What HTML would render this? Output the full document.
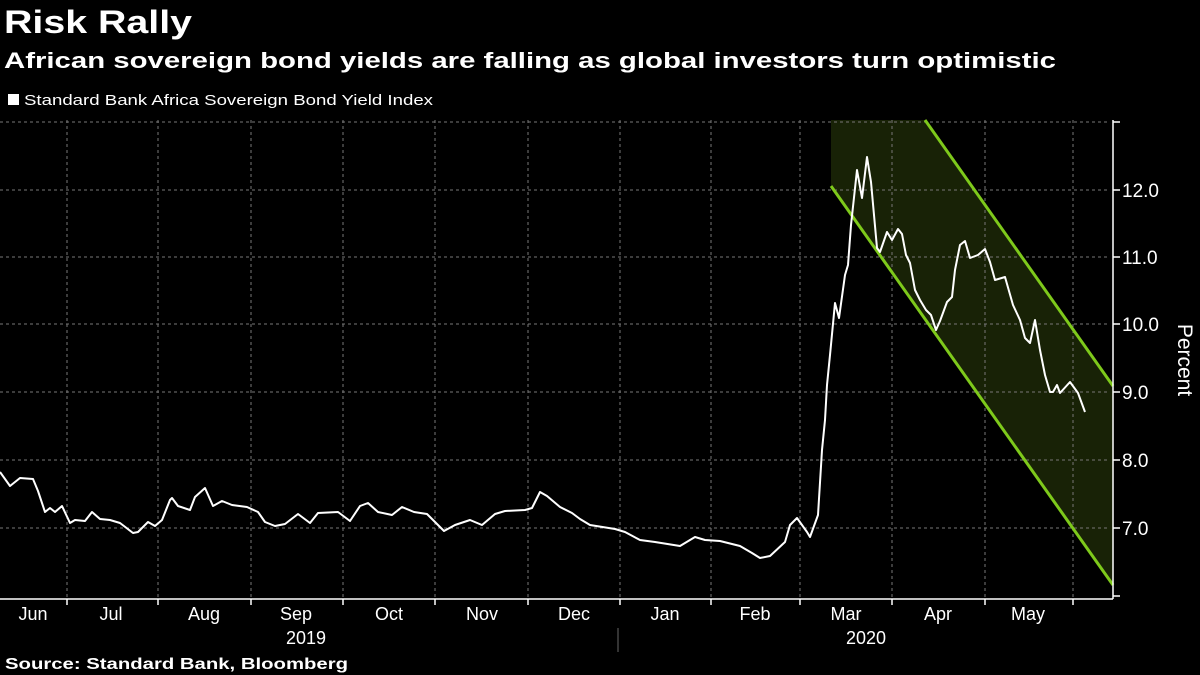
<!DOCTYPE html>
<html><head><style>
body{margin:0;background:#000;width:1200px;height:675px;overflow:hidden;font-family:"Liberation Sans",sans-serif;color:#fff}
</style></head><body>
<svg width="1200" height="675" xmlns="http://www.w3.org/2000/svg" style="position:absolute;left:0;top:0">
<text x="4" y="33" font-size="32" font-weight="bold" fill="#fff" textLength="188" lengthAdjust="spacingAndGlyphs">Risk Rally</text>
<text x="4" y="68" font-size="22" font-weight="bold" fill="#fff" textLength="1052" lengthAdjust="spacingAndGlyphs">African sovereign bond yields are falling as global investors turn optimistic</text>
<rect x="8" y="94" width="11" height="11" fill="#fff"/>
<text x="24" y="105" font-size="15" fill="#fff" textLength="409" lengthAdjust="spacingAndGlyphs">Standard Bank Africa Sovereign Bond Yield Index</text>
<polygon points="831,120 925,120 1113,386 1113,585 831,186" fill="#182206"/>
<g stroke="#777" stroke-width="1" stroke-dasharray="3,3">
<line x1="0" y1="122" x2="1110" y2="122"/><line x1="0" y1="190" x2="1110" y2="190"/><line x1="0" y1="257" x2="1110" y2="257"/><line x1="0" y1="324" x2="1110" y2="324"/><line x1="0" y1="392" x2="1110" y2="392"/><line x1="0" y1="460" x2="1110" y2="460"/><line x1="0" y1="528" x2="1110" y2="528"/>
<line x1="67" y1="120" x2="67" y2="598"/><line x1="158" y1="120" x2="158" y2="598"/><line x1="251" y1="120" x2="251" y2="598"/><line x1="343" y1="120" x2="343" y2="598"/><line x1="435" y1="120" x2="435" y2="598"/><line x1="528" y1="120" x2="528" y2="598"/><line x1="620" y1="120" x2="620" y2="598"/><line x1="711" y1="120" x2="711" y2="598"/><line x1="800" y1="120" x2="800" y2="598"/><line x1="892" y1="120" x2="892" y2="598"/><line x1="985" y1="120" x2="985" y2="598"/><line x1="1073" y1="120" x2="1073" y2="598"/>
</g>
<g stroke="#7ec91b" stroke-width="3"><line x1="831" y1="186" x2="1113" y2="585"/><line x1="925" y1="120" x2="1113" y2="386"/></g>
<polyline fill="none" stroke="#fff" stroke-width="2" stroke-linejoin="round" points="0,472 10,486 20,478 33,479 38,491 45,512 50,508 55,512 62,506 70,523 75,520 85,521 92,512 100,519 110,520 120,523 133,533 138,532 148,522 155,526 162,520 170,500 172,498 178,506 190,510 195,497 205,488 213,506 222,501 232,505 247,507 258,512 265,522 275,526 285,524 298,514 310,523 318,513 338,512 350,521 360,506 368,503 378,512 392,515 402,507 414,512 427,514 444,531 455,525 470,520 482,525 495,514 505,511 525,510 532,508 540,492 547,496 560,507 572,513 580,519 590,525 615,529 625,532 640,540 655,542 680,546 695,537 705,540 720,541 740,546 752,553 760,558 770,556 785,542 790,525 797,518 807,532 810,537 818,515 822,450 825,420 827,385 830,355 835,303 839,318 845,275 848,265 851,225 857,170 862,198 867,157 871,182 877,248 880,252 887,232 892,240 898,229 902,234 906,255 910,263 915,290 920,300 926,310 931,315 936,330 940,321 947,302 952,297 955,270 960,245 965,241 970,258 978,255 985,249 990,262 995,280 1005,277 1013,305 1020,320 1025,338 1030,343 1035,320 1040,350 1045,375 1050,392 1053,392 1057,385 1060,393 1070,382 1078,393 1085,412"/>
<g stroke="#fff" stroke-width="1.5">
<line x1="0" y1="599" x2="1113" y2="599"/><line x1="1113" y1="120" x2="1113" y2="599"/>
<line x1="67" y1="599" x2="67" y2="605"/><line x1="158" y1="599" x2="158" y2="605"/><line x1="251" y1="599" x2="251" y2="605"/><line x1="343" y1="599" x2="343" y2="605"/><line x1="435" y1="599" x2="435" y2="605"/><line x1="528" y1="599" x2="528" y2="605"/><line x1="620" y1="599" x2="620" y2="605"/><line x1="711" y1="599" x2="711" y2="605"/><line x1="800" y1="599" x2="800" y2="605"/><line x1="892" y1="599" x2="892" y2="605"/><line x1="985" y1="599" x2="985" y2="605"/><line x1="1073" y1="599" x2="1073" y2="605"/>
<line x1="1113" y1="122" x2="1120" y2="122"/><line x1="1113" y1="190" x2="1120" y2="190"/><line x1="1113" y1="257" x2="1120" y2="257"/><line x1="1113" y1="324" x2="1120" y2="324"/><line x1="1113" y1="392" x2="1120" y2="392"/><line x1="1113" y1="460" x2="1120" y2="460"/><line x1="1113" y1="528" x2="1120" y2="528"/><line x1="1113" y1="596" x2="1120" y2="596"/>
</g>
<line x1="618" y1="628" x2="618" y2="652" stroke="#666" stroke-width="1"/>
<g font-size="19" fill="#fff">
<text x="1122" y="197">12.0</text><text x="1122" y="264">11.0</text><text x="1122" y="331">10.0</text><text x="1122" y="399">9.0</text><text x="1122" y="467">8.0</text><text x="1122" y="535">7.0</text>
</g>
<text transform="translate(1178,360) rotate(90)" font-size="21" fill="#fff" text-anchor="middle">Percent</text>
<g font-size="18" fill="#fff" text-anchor="middle">
<text x="33" y="620">Jun</text><text x="111" y="620">Jul</text><text x="204" y="620">Aug</text><text x="296" y="620">Sep</text><text x="389" y="620">Oct</text><text x="482" y="620">Nov</text><text x="574" y="620">Dec</text><text x="665" y="620">Jan</text><text x="755" y="620">Feb</text><text x="846" y="620">Mar</text><text x="938" y="620">Apr</text><text x="1028" y="620">May</text>
<text x="306" y="644">2019</text><text x="866" y="644">2020</text>
</g>
<text x="5" y="669" font-size="16" font-weight="bold" fill="#fff" textLength="343" lengthAdjust="spacingAndGlyphs">Source: Standard Bank, Bloomberg</text>
</svg>
</body></html>
